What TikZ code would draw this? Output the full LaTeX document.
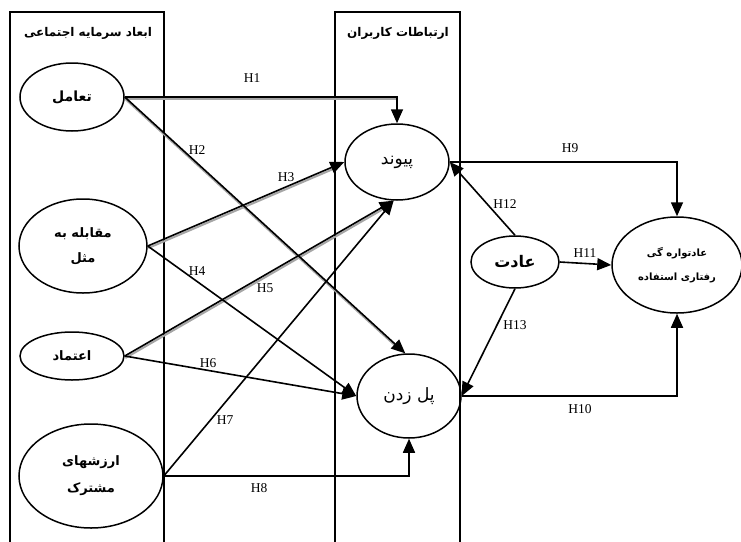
\documentclass[tikz,border=0pt]{standalone}
\usepackage{fontspec}
\setmainfont{Liberation Serif}
\newfontfamily\arabicfont[Script=Arabic]{DejaVu Sans}
\TeXXeTstate=1
\usetikzlibrary{shapes.geometric,arrows.meta}
\newcommand{\prs}[1]{{\arabicfont\beginR #1\endR}}
\begin{document}
\begin{tikzpicture}[x=1pt,y=-1pt,
  frame/.style={line width=1.5pt},
  ell/.style={ellipse, draw, line width=1.5pt, inner sep=0pt, align=center},
  conn/.style={line width=1.6pt, -{Triangle[length=14pt,width=12pt]}},
  shadowline/.style={line width=2pt, black!35, transform canvas={shift={(0.6pt,-2pt)}}},
  hl/.style={font=\fontsize{13.5}{15}\selectfont, inner sep=1pt},
  bt/.style={font=\fontsize{13}{15}\selectfont\bfseries},
  nt/.style={font=\fontsize{17}{19}\selectfont}
]
\useasboundingbox (0,0) rectangle (741,541);
\fill[white] (0,0) rectangle (741,541);

% frames
\draw[frame] (10,545) -- (10,12) -- (164,12) -- (164,545);
\draw[frame] (335,545) -- (335,12) -- (460,12) -- (460,545);
\node[bt, font=\fontsize{12}{14}\selectfont\bfseries] (t1) at (88,33) {\prs{ابعاد سرمایه اجتماعی}};
\node[bt, font=\fontsize{12}{14}\selectfont\bfseries] (t2) at (398,33) {\prs{ارتباطات کاربران}};

% ellipses
\node[ell, bt, font=\fontsize{14}{16}\selectfont\bfseries, minimum width=104pt, minimum height=68pt] (taamol) at (72,97) {\prs{تعامل}};
\node[ell, bt, minimum width=128pt, minimum height=94pt] (moghabele) at (83,246) {\prs{مقابله به}\\[10pt]\prs{مثل}};
\node[ell, bt, minimum width=104pt, minimum height=48pt] (etemad) at (72,356) {\prs{اعتماد}};
\node[ell, bt, minimum width=144pt, minimum height=104pt] (arzesh) at (91,476) {\prs{ارزشهای}\\[12pt]\prs{مشترک}};
\node[ell, nt, minimum width=104pt, minimum height=76pt] (peyvand) at (397,162) {\prs{پیوند}};
\node[ell, nt, minimum width=104pt, minimum height=84pt] (polzadan) at (409,396) {\prs{پل زدن}};
\node[ell, font=\fontsize{16}{18}\selectfont\bfseries, minimum width=88pt, minimum height=52pt] (adat) at (515,262) {\prs{عادت}};
\node[ell, font=\fontsize{10}{12}\selectfont\bfseries, minimum width=130pt, minimum height=96pt] (adatvare) at (677,265) {\prs{عادتواره گی}\\[12pt]\prs{رفتاری استفاده}};

% shadows
\draw[shadowline] (taamol.east) -- (peyvand.north |- taamol.east);
\draw[shadowline, shorten >=14pt] (taamol.east) -- (polzadan.95);
\draw[shadowline, shorten >=14pt] (moghabele.east) -- (peyvand.west);
\draw[shadowline, shorten >=14pt] (etemad.east) -- (peyvand.265);

% connectors
\draw[conn] (taamol.east) -| (peyvand.north);
\draw[conn] (taamol.east) -- (polzadan.95);
\draw[conn] (moghabele.east) -- (peyvand.west);
\draw[conn] (moghabele.east) -- (polzadan.west);
\draw[conn] (etemad.east) -- (peyvand.265);
\draw[conn] (etemad.east) -- (polzadan.west);
\draw[conn] (arzesh.east) -- (peyvand.265);
\draw[conn] (arzesh.east) -| (polzadan.south);
\draw[conn] (peyvand.east) -| (adatvare.north);
\draw[conn] (polzadan.east) -| (adatvare.south);
\draw[conn] (adat.east) -- (adatvare.west);
\draw[conn] (adat.north) -- (peyvand.east);
\draw[conn] (adat.south) -- (polzadan.east);

% labels
\node[hl] (h1) at (252,78) {H1};
\node[hl] (h2) at (197,150) {H2};
\node[hl] (h3) at (286,177) {H3};
\node[hl] (h4) at (197,271) {H4};
\node[hl] (h5) at (265,288) {H5};
\node[hl] (h6) at (208,363) {H6};
\node[hl] (h7) at (225,420) {H7};
\node[hl] (h8) at (259,488) {H8};
\node[hl] (h9) at (570,148) {H9};
\node[hl] (h10) at (580,409) {H10};
\node[hl] (h11) at (585,253) {H11};
\node[hl] (h12) at (505,204) {H12};
\node[hl] (h13) at (515,325) {H13};
\end{tikzpicture}
\end{document}
